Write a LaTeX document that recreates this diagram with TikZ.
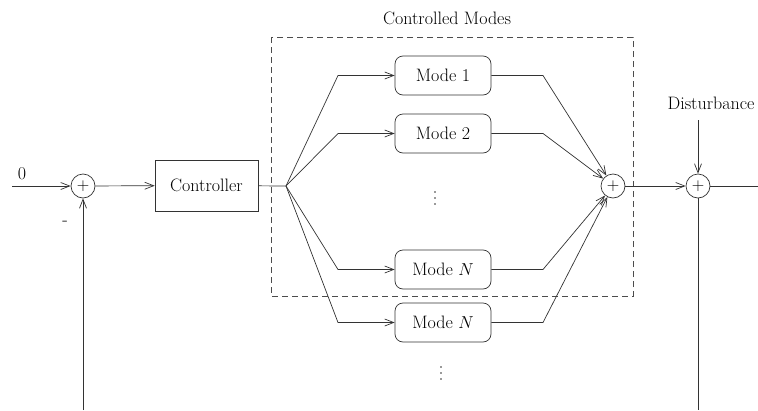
\documentclass[tikz,border=0pt]{standalone}
\usetikzlibrary{arrows.meta}
\begin{document}
\begin{tikzpicture}[x=1pt,y=-1pt,
  every node/.style={font=\fontsize{18}{21}\selectfont},
  line width=0.7pt, draw=black!80,
  arr/.style={-{Straight Barb[length=9pt,width=7pt,line width=0.7pt]}},
  sumnode/.style={draw=black!80,circle,minimum size=24pt,inner sep=0pt},
  modebox/.style={draw=black!80,rounded corners=8pt,minimum width=96pt,minimum height=39pt,inner sep=0pt},
  ctrlbox/.style={draw=black!80,minimum width=103pt,minimum height=51pt,inner sep=0pt},
  lbl/.style={inner sep=0pt},
  dotstyle/.style={fill=black!80,draw=none}]
\useasboundingbox (0,0) rectangle (758,410);
% dashed frame
\draw[black!70,dash pattern=on 6pt off 4pt] (271,37) rectangle (633,296);
\node[lbl] (cmlabel) at (447,18) {Controlled Modes};
% nodes
\node[sumnode] (sum1) at (83,186) {$+$};
\node[ctrlbox] (ctrl) at (206.5,185.5) {Controller};
\coordinate (br) at (286,186);
\node[modebox] (m1) at (443,75.5) {Mode 1};
\node[modebox] (m2) at (443,133.5) {Mode 2};
\node[modebox] (mN) at (443,269.5) {Mode $N$};
\node[modebox] (mN2) at (443,322.5) {Mode $N$};
\node[sumnode] (sum2) at (613,186) {$+$};
\node[sumnode] (sum3) at (698,186) {$+$};
\foreach \yy in {192,198,204} \fill[dotstyle] (435,\yy) circle (0.9pt);
\foreach \yy in {367,373,379} \fill[dotstyle] (441,\yy) circle (0.9pt);
\node[lbl] (zero) at (22,174) {0};
\node[lbl] (minus) at (65,223) {-};
\node[lbl] (dist) at (711,103) {Disturbance};
% free ends / bends
\coordinate (in) at (12,186);
\coordinate (fb) at (83,410);
\coordinate (out) at (758,186);
\coordinate (dtop) at (698,120);
\coordinate (fb2) at (698,410);
\coordinate (a1) at (338,75.5);
\coordinate (a2) at (338,133.5);
\coordinate (aN) at (338,269.5);
\coordinate (aN2) at (338,322.5);
\coordinate (c1) at (543,75.5);
\coordinate (c2) at (543,133.5);
\coordinate (cN) at (543,269.5);
\coordinate (cN2) at (543,322.5);
% connectors
\draw[arr] (in) -- (sum1);
\draw[arr] (fb) -- (sum1);
\draw[arr] (sum1) -- (ctrl);
\draw (ctrl) -- (br);
\draw[arr] (br) -- (a1) -- (m1);
\draw[arr] (br) -- (a2) -- (m2);
\draw[arr] (br) -- (aN) -- (mN);
\draw[arr] (br) -- (aN2) -- (mN2);
\draw[arr] (m1) -- (c1) -- (sum2);
\draw[arr] (m2) -- (c2) -- (sum2);
\draw[arr] (mN) -- (cN) -- (sum2);
\draw[arr] (mN2) -- (cN2) -- (sum2);
\draw[arr] (sum2) -- (sum3);
\draw (sum3) -- (out);
\draw[arr] (dtop) -- (sum3);
\draw (sum3) -- (fb2);
\end{tikzpicture}
\end{document}
